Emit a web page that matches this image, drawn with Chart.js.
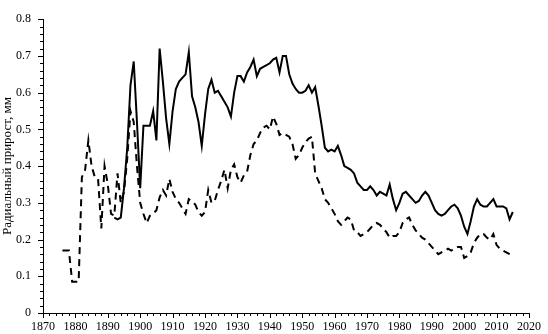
<!DOCTYPE html>
<html>
<head>
<meta charset="utf-8">
<script src="https://cdn.jsdelivr.net/npm/chart.js@4"></script>
<style>
  html, body { margin: 0; padding: 0; background: #fff; }
  #wrap { width: 548px; height: 334px; }
</style>
</head>
<body>
<div id="wrap"><canvas id="chart"></canvas></div>
<script>
// ---- data ----
const solidYears = [
  1892, 1893, 1894, 1895, 1896, 1897, 1898, 1899,
  1900, 1901, 1902, 1903, 1904, 1905, 1906, 1907, 1908, 1909,
  1910, 1911, 1912, 1913, 1914, 1915, 1916, 1917, 1918, 1919,
  1920, 1921, 1922, 1923, 1924, 1925, 1926, 1927, 1928, 1929,
  1930, 1931, 1932, 1933, 1934, 1935, 1936, 1937, 1938, 1939,
  1940, 1941, 1942, 1943, 1944, 1945, 1946, 1947, 1948, 1949,
  1950, 1951, 1952, 1953, 1954, 1955, 1956, 1957, 1958, 1959,
  1960, 1961, 1962, 1963, 1964, 1965, 1966, 1967, 1968, 1969,
  1970, 1971, 1972, 1973, 1974, 1975, 1976, 1977, 1978, 1979,
  1980, 1981, 1982, 1983, 1984, 1985, 1986, 1987, 1988, 1989,
  1990, 1991, 1992, 1993, 1994, 1995, 1996, 1997, 1998, 1999,
  2000, 2001, 2002, 2003, 2004, 2005, 2006, 2007, 2008, 2009,
  2010, 2011, 2012, 2013, 2014, 2015
];
const solidValues = [
  0.26, 0.255, 0.26, 0.34, 0.45, 0.62, 0.685, 0.52,
  0.34, 0.51, 0.51, 0.51, 0.55, 0.47, 0.72, 0.63, 0.53, 0.46,
  0.55, 0.61, 0.63, 0.64, 0.65, 0.71, 0.59, 0.56, 0.52, 0.455,
  0.54, 0.61, 0.635, 0.60, 0.605, 0.59, 0.575, 0.56, 0.535, 0.60,
  0.645, 0.645, 0.63, 0.655, 0.67, 0.69, 0.645, 0.665, 0.67, 0.675,
  0.68, 0.69, 0.695, 0.655, 0.70, 0.70, 0.65, 0.625, 0.61, 0.60,
  0.60, 0.605, 0.62, 0.60, 0.615, 0.565, 0.51, 0.45, 0.44, 0.445,
  0.44, 0.455, 0.43, 0.40, 0.395, 0.39, 0.38, 0.355, 0.345, 0.335,
  0.335, 0.345, 0.335, 0.32, 0.33, 0.325, 0.32, 0.35, 0.31, 0.28,
  0.30, 0.325, 0.33, 0.32, 0.31, 0.30, 0.305, 0.32, 0.33, 0.32,
  0.30, 0.28, 0.27, 0.265, 0.27, 0.28, 0.29, 0.295, 0.285, 0.265,
  0.235, 0.215, 0.25, 0.29, 0.31, 0.295, 0.29, 0.29, 0.30, 0.31,
  0.29, 0.29, 0.29, 0.285, 0.255, 0.275
];

const dashedYears = [
  1876, 1877, 1878, 1879,
  1880, 1881, 1882, 1883, 1884, 1885, 1886, 1887, 1888, 1889,
  1890, 1891, 1892, 1893, 1894, 1895, 1896, 1897, 1898, 1899,
  1900, 1901, 1902, 1903, 1904, 1905, 1906, 1907, 1908, 1909,
  1910, 1911, 1912, 1913, 1914, 1915, 1916, 1917, 1918, 1919,
  1920, 1921, 1922, 1923, 1924, 1925, 1926, 1927, 1928, 1929,
  1930, 1931, 1932, 1933, 1934, 1935, 1936, 1937, 1938, 1939,
  1940, 1941, 1942, 1943, 1944, 1945, 1946, 1947, 1948, 1949,
  1950, 1951, 1952, 1953, 1954, 1955, 1956, 1957, 1958, 1959,
  1960, 1961, 1962, 1963, 1964, 1965, 1966, 1967, 1968, 1969,
  1970, 1971, 1972, 1973, 1974, 1975, 1976, 1977, 1978, 1979,
  1980, 1981, 1982, 1983, 1984, 1985, 1986, 1987, 1988, 1989,
  1990, 1991, 1992, 1993, 1994, 1995, 1996, 1997, 1998, 1999,
  2000, 2001, 2002, 2003, 2004, 2005, 2006, 2007, 2008, 2009,
  2010, 2011, 2012, 2013, 2014, 2015
];
const dashedValues = [
  0.17, 0.17, 0.17, 0.085,
  0.085, 0.085, 0.37, 0.39, 0.47, 0.40, 0.37, 0.365, 0.23, 0.40,
  0.35, 0.27, 0.265, 0.38, 0.30, 0.33, 0.42, 0.55, 0.52, 0.40,
  0.30, 0.27, 0.245, 0.265, 0.27, 0.28, 0.315, 0.335, 0.32, 0.365,
  0.33, 0.31, 0.30, 0.285, 0.27, 0.31, 0.305, 0.295, 0.275, 0.265,
  0.275, 0.335, 0.30, 0.305, 0.335, 0.36, 0.39, 0.34, 0.39, 0.405,
  0.37, 0.355, 0.375, 0.385, 0.43, 0.46, 0.47, 0.49, 0.505, 0.51,
  0.50, 0.535, 0.515, 0.485, 0.49, 0.485, 0.48, 0.46, 0.42, 0.43,
  0.45, 0.465, 0.475, 0.48, 0.38, 0.36, 0.34, 0.31, 0.30, 0.285,
  0.27, 0.25, 0.24, 0.25, 0.26, 0.255, 0.225, 0.22, 0.21, 0.215,
  0.22, 0.23, 0.24, 0.245, 0.24, 0.23, 0.22, 0.205, 0.21, 0.21,
  0.22, 0.245, 0.255, 0.26, 0.24, 0.225, 0.215, 0.205, 0.20, 0.19,
  0.18, 0.17, 0.16, 0.165, 0.17, 0.175, 0.17, 0.175, 0.18, 0.18,
  0.15, 0.155, 0.165, 0.19, 0.205, 0.215, 0.215, 0.205, 0.20, 0.215,
  0.185, 0.175, 0.17, 0.165, 0.16, 0.155
];

const xMin = 1870, xMax = 2020, xStep = 10, xMinorStep = 2;
const yMin = 0, yMax = 0.8, yStep = 0.1, yMinorStep = 0.02;
const yTitle = 'Радиальный прирост, мм';

const FONT = "'Liberation Serif', 'Times New Roman', serif";

// ---- tick marks drawn by hand (major + minor, outside the axes) ----
const tickMarks = {
  id: 'tickMarks',
  afterDraw(chart) {
    const ctx = chart.ctx;
    const xs = chart.scales.x, ys = chart.scales.y;
    const a = chart.chartArea;
    ctx.save();
    ctx.strokeStyle = '#000';
    ctx.lineWidth = 1;
    ctx.beginPath();
    for (let i = 0; i <= Math.round((xMax - xMin) / xMinorStep); i++) {
      const v = xMin + i * xMinorStep;
      const px = Math.round(xs.getPixelForValue(v)) + 0.5;
      const len = (v % xStep === 0) ? 5 : 3;
      ctx.moveTo(px, a.bottom);
      ctx.lineTo(px, a.bottom + len);
    }
    for (let i = 0; i <= Math.round((yMax - yMin) / yMinorStep); i++) {
      const v = yMin + i * yMinorStep;
      const py = Math.round(ys.getPixelForValue(v)) + 0.5;
      const len = (i % 5 === 0) ? 5 : 3;
      ctx.moveTo(a.left, py);
      ctx.lineTo(a.left - len, py);
    }
    ctx.stroke();
    ctx.restore();
  }
};

new Chart(document.getElementById('chart'), {
  type: 'line',
  data: {
    datasets: [
      {
        label: 'solid',
        data: solidYears.map((yr, i) => ({ x: yr, y: solidValues[i] })),
        borderColor: '#000',
        borderWidth: 2,
        pointRadius: 0,
        tension: 0,
        fill: false
      },
      {
        label: 'dashed',
        data: dashedYears.map((yr, i) => ({ x: yr, y: dashedValues[i] })),
        borderColor: '#000',
        borderWidth: 2,
        borderDash: [7, 5],
        pointRadius: 0,
        tension: 0,
        fill: false
      }
    ]
  },
  options: {
    responsive: true,
    maintainAspectRatio: false,
    animation: false,
    layout: { padding: { top: 5, right: 13, left: 0, bottom: 0 } },
    plugins: {
      legend: { display: false },
      tooltip: { enabled: false }
    },
    scales: {
      x: {
        type: 'linear',
        min: xMin,
        max: xMax,
        grid: { display: false, drawTicks: false },
        border: { display: true, color: '#000', width: 1 },
        ticks: {
          stepSize: xStep,
          color: '#000',
          padding: 7,
          maxRotation: 0,
          autoSkip: false,
          font: { family: FONT, size: 12 },
          callback: v => String(v)
        },
        afterFit: s => { s.height = 21; }
      },
      y: {
        min: yMin,
        max: yMax,
        grid: { display: false, drawTicks: false },
        border: { display: true, color: '#000', width: 1 },
        ticks: {
          stepSize: yStep,
          color: '#000',
          padding: 12,
          font: { family: FONT, size: 12 },
          callback: v => (v === 0 ? '0' : v.toFixed(1))
        },
        title: {
          display: true,
          text: yTitle,
          color: '#000',
          padding: 0,
          font: { family: FONT, size: 13 }
        },
        afterFit: s => { s.width = 43; }
      }
    }
  },
  plugins: [tickMarks]
});
</script>
</body>
</html>
